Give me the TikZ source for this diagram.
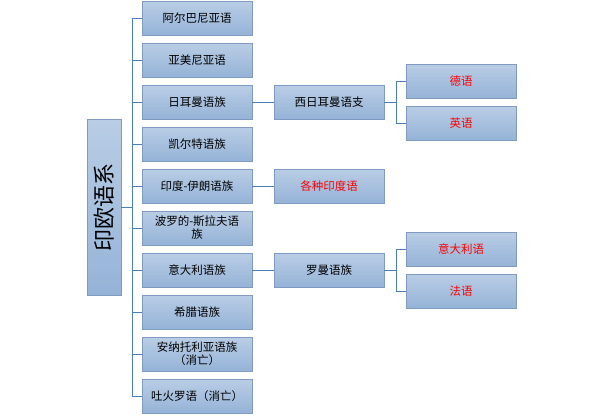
\documentclass[tikz,border=0pt]{standalone}
\usepackage{fontspec}
\setmainfont{Noto Sans CJK SC}
\begin{document}
\begin{tikzpicture}[x=1pt,y=-1pt,
 bx/.style={draw=black!45!blue!40!white, top color=blue!30!cyan!12!white!85!blue, bottom color=blue!40!cyan!25!white!70!blue, minimum width=110pt, minimum height=34pt, inner sep=1pt, font=\fontsize{11.5}{13}\selectfont, align=center, text width=106pt},
 rd/.style={text=red},
 ln/.style={draw=blue!55!cyan!70!black, line width=0.9pt}]
\definecolor{fa}{HTML}{B9CDE5}\definecolor{fb}{HTML}{95B3D7}\definecolor{bd}{HTML}{7F9BC0}\definecolor{lc}{HTML}{4A7EBB}
\tikzset{bx/.append style={draw=bd, top color=fa, bottom color=fb}, ln/.style={draw=lc, line width=0.9pt}}
\useasboundingbox (0,0) rectangle (604,415);
\node[bx, minimum width=34pt, text width=, minimum height=176pt] (root) at (104,207) {};
\node[rotate=90, font=\fontsize{22}{24}\selectfont] at (root.center) {印欧语系};
\coordinate (t) at (132,207);
\foreach \n/\y/\t in {a/18/阿尔巴尼亚语, b/60/亚美尼亚语, c/102/日耳曼语族, d/144/凯尔特语族, e/186/印度-伊朗语族, f/228/{波罗的-斯拉夫语\\族}, g/270/意大利语族, h/312/希腊语族, i/354/{安纳托利亚语族\\（消亡）}, j/396/吐火罗语（消亡）}{
 \node[bx] (\n) at (197,\y) {\t};
 \draw[ln] (\n.west) -- (132,\y);
}
\draw[ln] (132,18) -- (132,396);
\draw[ln] (root.east) -- (t);
\node[bx] (m1) at (329,102) {西日耳曼语支};
\node[bx] (m2) at (329,186) {\textcolor{red}{各种印度语}};
\node[bx] (m3) at (329,270) {罗曼语族};
\draw[ln] (c) -- (m1); \draw[ln] (e) -- (m2); \draw[ln] (g) -- (m3);
\node[bx] (l1) at (461,81) {\textcolor{red}{德语}};
\node[bx] (l2) at (461,123) {\textcolor{red}{英语}};
\node[bx] (l3) at (461,249) {\textcolor{red}{意大利语}};
\node[bx] (l4) at (461,291) {\textcolor{red}{法语}};
\draw[ln] (m1.east) -- (396,102);
\draw[ln] (396,81) -- (396,123);
\draw[ln] (l1.west) -- (396,81); \draw[ln] (l2.west) -- (396,123);
\draw[ln] (m3.east) -- (396,270);
\draw[ln] (396,249) -- (396,291);
\draw[ln] (l3.west) -- (396,249); \draw[ln] (l4.west) -- (396,291);
\end{tikzpicture}
\end{document}
